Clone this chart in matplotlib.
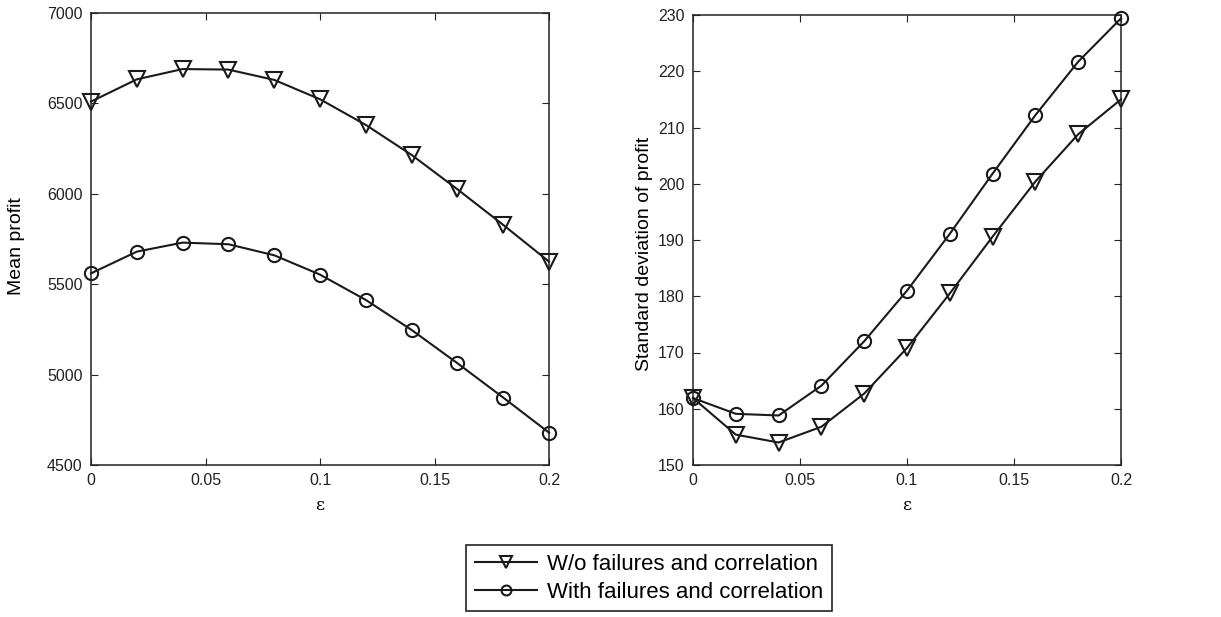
import numpy as np
import matplotlib
matplotlib.use('Agg')
import matplotlib.pyplot as plt

plt.rcParams['font.family'] = ['Liberation Sans', 'DejaVu Sans']

eps = [0, 0.02, 0.04, 0.06, 0.08, 0.1, 0.12, 0.14, 0.16, 0.18, 0.2]

mean_wo = [6510, 6633, 6690, 6687, 6630, 6523, 6381, 6215, 6025, 5828, 5625]
mean_with = [5560, 5680, 5730, 5721, 5660, 5553, 5413, 5247, 5063, 4873, 4679]

std_wo = [161.9, 155.4, 154.0, 156.8, 162.7, 170.8, 180.5, 190.6, 200.4, 208.8, 215.0]
std_with = [161.9, 159.1, 158.8, 164.1, 172.0, 181.0, 191.1, 201.8, 212.2, 221.7, 229.4]

labels = ['W/o failures and correlation', 'With failures and correlation']

fig = plt.figure(figsize=(12.21, 6.17), dpi=100)
ax1 = fig.add_axes([91/1221, 1 - 465/617, 458/1221, 452/617])
ax2 = fig.add_axes([693/1221, 1 - 465/617, 428/1221, 450/617])

line_kw = dict(color='#1a1a1a', linewidth=1.5, markerfacecolor='none',
               markeredgecolor='#1a1a1a', markeredgewidth=1.5, clip_on=False)

for ax, wo, wi in [(ax1, mean_wo, mean_with), (ax2, std_wo, std_with)]:
    ax.plot(eps, wo, marker='v', markersize=11.5, label=labels[0], zorder=3, **line_kw)
    ax.plot(eps, wi, marker='o', markersize=9.5, label=labels[1], zorder=3, **line_kw)
    ax.set_xlim(0, 0.2)
    ax.set_xticks([0, 0.05, 0.1, 0.15, 0.2])
    ax.set_xticklabels(['0', '0.05', '0.1', '0.15', '0.2'])
    ax.tick_params(direction='in', top=True, right=True, length=5,
                   labelsize=11.5, colors='#222222', pad=6)
    for s in ax.spines.values():
        s.set_linewidth(1.1)
        s.set_color('#222222')
    ax.set_xlabel('ε', family=['DejaVu Serif'], fontsize=12.5, labelpad=6)

ax1.set_ylim(4500, 7000)
ax1.set_yticks(np.arange(4500, 7001, 500))
ax1.set_ylabel('Mean profit', fontsize=14)
ax1.yaxis.set_label_coords(-66/458, 0.485)

ax2.set_ylim(150, 230)
ax2.set_yticks(np.arange(150, 231, 10))
ax2.set_ylabel('Standard deviation of profit', fontsize=14)
ax2.yaxis.set_label_coords(-40/428, 0.47)

handles, lbls = ax1.get_legend_handles_labels()
leg = fig.legend(handles, lbls, loc='upper center', bbox_to_anchor=(649/1221, 1 - 545/617),
                 fontsize=16, frameon=True, fancybox=False, edgecolor='#222222',
                 framealpha=1, handlelength=2.8, borderpad=0.4, labelspacing=0.3,
                 handletextpad=0.45, borderaxespad=0, markerscale=0.75)
leg.get_frame().set_linewidth(1.2)

fig.savefig('out.png', dpi=100)
